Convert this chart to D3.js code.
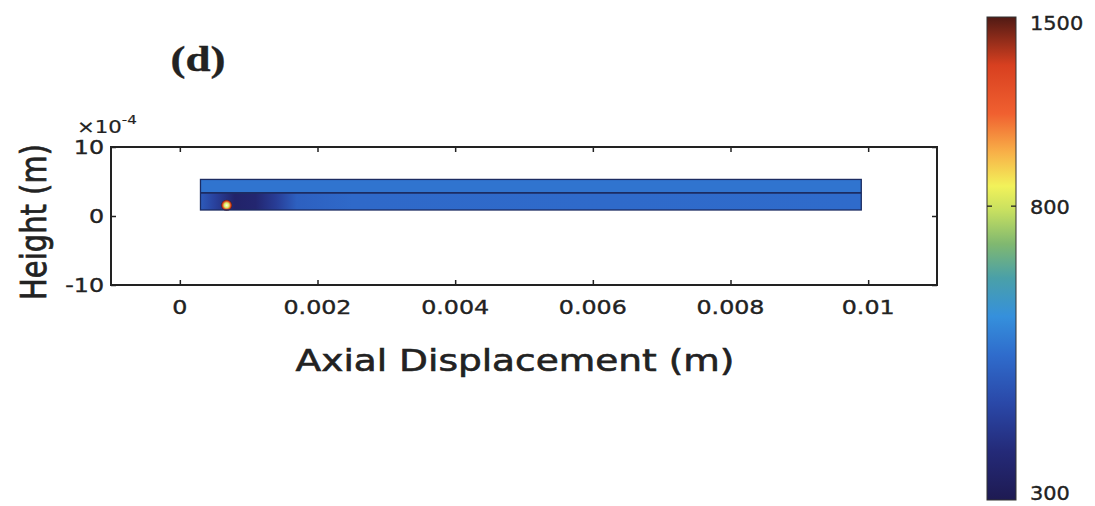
<!DOCTYPE html>
<html><head><meta charset="utf-8">
<script src="https://cdn.jsdelivr.net/npm/d3@7"></script>
<style>body{margin:0;background:#fff}svg{display:block}</style>
</head><body>
<script>
// ---- data ----
const xTicks = [0, 0.002, 0.004, 0.006, 0.008, 0.01];
const xTickLabels = ["0", "0.002", "0.004", "0.006", "0.008", "0.01"];
const yTicks = [10, 0, -10];            // x10^-4 m
const yTickLabels = ["10", "0", "-10"];
const cbTicks = [300, 800, 1500];
const cbTickLabels = ["300", "800", "1500"];
// domain (slab) extents
const slabX = [0.0003, 0.0099];          // m
const slabY = [0.87, 5.3];               // x10^-4 m
const interfaceY = 3.35;                 // x10^-4 m
// temperature along lower layer
const lowerX = [0.0003, 0.0005, 0.0008, 0.0011, 0.0014, 0.0017, 0.0025, 0.0099];
const lowerT = [450, 400, 330, 340, 390, 460, 480, 485];
const upperT = [500, 500];
// hot spot
const spotX = 0.00068, spotY = 1.55;
const spotT = [1500, 820, 1250];
// colormap (fraction bottom->top)
const cmapT = [0, 0.1, 0.2, 0.3, 0.38, 0.46, 0.53, 0.6, 0.65, 0.72, 0.8, 0.9, 1.0];
const cmapC = ["#1e1a52","#242a78","#2a48a8","#2f6ccc","#3590dc","#4aa0a8","#80b870","#c8e060","#f2f25a","#f8b048","#f06030","#d84020","#501a14"];

const W = 1095, H = 506, SX = 1.25;
const svg = d3.select("body").append("svg").attr("width", W).attr("height", H);
svg.append("rect").attr("width", W).attr("height", H).attr("fill", "#fff");
const defs = svg.append("defs");

const x = d3.scaleLinear().domain([-0.001, 0.011]).range([111, 937]);
const y = d3.scaleLinear().domain([-10, 10]).range([285, 147]);
const tScale = d3.scaleLog().domain([300, 1500]).range([0, 1]);
const cmap = d3.scaleLinear().domain(cmapT).range(cmapC).interpolate(d3.interpolateRgb).clamp(true);
const color = T => cmap(tScale(T));

function txt(g, px, py, s, o = {}) {
  let tr = `translate(${px},${py}) scale(${o.sx || SX},1)` + (o.rot ? ` rotate(${o.rot})` : "");
  return g.append("text").attr("transform", tr).attr("text-anchor", o.anchor || "middle")
    .attr("font-family", o.family || "DejaVu Sans").attr("font-size", o.size || 20)
    .attr("font-weight", o.weight || "normal").attr("fill", "#222")
    .attr("stroke", "#222").attr("stroke-width", o.sw || 0.35).text(s);
}

// ---- slab ----
const gl = defs.append("linearGradient").attr("id", "lowerG").attr("gradientUnits", "userSpaceOnUse")
  .attr("x1", x(slabX[0])).attr("x2", x(slabX[1])).attr("y1", 0).attr("y2", 0);
lowerX.forEach((v, i) => gl.append("stop")
  .attr("offset", (x(v) - x(slabX[0])) / (x(slabX[1]) - x(slabX[0]))).attr("stop-color", color(lowerT[i])));

svg.append("rect").attr("x", x(slabX[0])).attr("y", y(slabY[1]))
  .attr("width", x(slabX[1]) - x(slabX[0])).attr("height", y(interfaceY) - y(slabY[1]))
  .attr("fill", color(upperT[0]));
svg.append("rect").attr("x", x(slabX[0])).attr("y", y(interfaceY))
  .attr("width", x(slabX[1]) - x(slabX[0])).attr("height", y(slabY[0]) - y(interfaceY))
  .attr("fill", "url(#lowerG)");
// hot spot
const rg = defs.append("radialGradient").attr("id", "spotG");
rg.append("stop").attr("offset", 0).attr("stop-color", "#fffbe6");
rg.append("stop").attr("offset", 0.45).attr("stop-color", color(spotT[1]));
rg.append("stop").attr("offset", 0.75).attr("stop-color", color(spotT[2]));
rg.append("stop").attr("offset", 1).attr("stop-color", color(spotT[0]));
svg.append("circle").attr("cx", x(spotX)).attr("cy", y(spotY)).attr("r", 5.5).attr("fill", "url(#spotG)");
// outlines
svg.append("rect").attr("x", x(slabX[0])).attr("y", y(slabY[1]))
  .attr("width", x(slabX[1]) - x(slabX[0])).attr("height", y(slabY[0]) - y(slabY[1]))
  .attr("fill", "none").attr("stroke", "#1c2c62").attr("stroke-width", 1.3);
svg.append("line").attr("x1", x(slabX[0])).attr("x2", x(slabX[1]))
  .attr("y1", y(interfaceY)).attr("y2", y(interfaceY)).attr("stroke", "#1c2c62").attr("stroke-width", 1.6);

// ---- axes ----
[[d3.axisBottom(x).tickValues(xTicks), `translate(0,285)`],
 [d3.axisTop(x).tickValues(xTicks), `translate(0,147)`],
 [d3.axisLeft(y).tickValues(yTicks), `translate(111,0)`],
 [d3.axisRight(y).tickValues(yTicks), `translate(937,0)`]].forEach(([a, t]) => {
  const g = svg.append("g").attr("transform", t).call(a.tickSize(-5).tickSizeOuter(0).tickFormat(""));
  g.select(".domain").remove();
  g.selectAll("line").attr("stroke", "#222").attr("stroke-width", 1.5);
});
svg.append("rect").attr("x", 111).attr("y", 147).attr("width", 826).attr("height", 138)
  .attr("fill", "none").attr("stroke", "#222").attr("stroke-width", 2);

xTicks.forEach((v, i) => txt(svg, x(v), 314, xTickLabels[i], {size: 19}));
yTicks.forEach((v, i) => txt(svg, 104, y(v) + 7, yTickLabels[i], {size: 19, anchor: "end"}));
const ex = txt(svg, 77, 133, "", {size: 17, anchor: "start", sw: 0.2});
ex.append("tspan").text("×10");
ex.append("tspan").attr("font-size", 12).attr("dy", -9).text("-4");

txt(svg, 515, 371, "Axial Displacement (m)", {size: 30, sw: 0.6});
txt(svg, 46, 222, "Height (m)", {size: 29, rot: -90, sw: 0.6});
txt(svg, 198, 71, "(d)", {size: 36, family: "Liberation Serif", weight: "bold", sw: 0});

// ---- colorbar ----
const cbX = 987, cbW = 29;
const cy = d3.scaleLog().domain([300, 1500]).range([500, 17]);
const cg = defs.append("linearGradient").attr("id", "cbG").attr("x1", 0).attr("x2", 0).attr("y1", 1).attr("y2", 0);
cmapT.forEach((t, i) => cg.append("stop").attr("offset", t).attr("stop-color", cmapC[i]));
svg.append("rect").attr("x", cbX).attr("y", 17).attr("width", cbW).attr("height", 483)
  .attr("fill", "url(#cbG)").attr("stroke", "#333").attr("stroke-width", 1);
[d3.axisLeft(cy), d3.axisRight(cy)].forEach((a, k) => {
  const g = svg.append("g").attr("transform", `translate(${k ? cbX + cbW : cbX},0)`)
    .call(a.tickValues([800]).tickSize(-5).tickFormat(""));
  g.select(".domain").remove();
  g.selectAll("line").attr("stroke", "#222").attr("stroke-width", 1.3);
});
cbTicks.forEach((v, i) => txt(svg, 1030, Math.min(Math.max(cy(v), 22), 492) + 8, cbTickLabels[i], {size: 19, anchor: "start", sx: 1.1}));
</script>
</body></html>
